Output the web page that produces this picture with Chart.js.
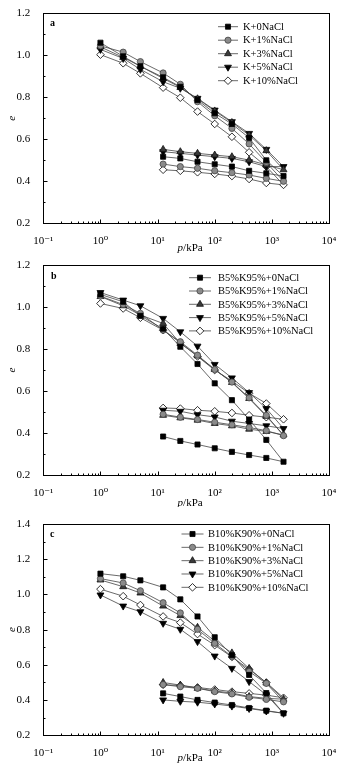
<!DOCTYPE html>
<html><head><meta charset="utf-8">
<script src="https://cdn.jsdelivr.net/npm/chart.js@4.4.0/dist/chart.umd.min.js"></script>
<style>
html,body{margin:0;padding:0;background:#fff;width:349px;height:772px;overflow:hidden}
canvas{position:absolute;left:0}
</style></head><body>
<canvas id="ca" style="top:0px" width="349" height="255"></canvas>
<canvas id="cb" style="top:252px" width="349" height="255"></canvas>
<canvas id="cc" style="top:510px" width="349" height="262"></canvas>
<script>
// ---- data ----
// pressure path: loading 1 -> 1600 kPa, then unloading 800 -> 12.5 kPa
const pressure = [1, 2.5, 5, 12.5, 25, 50, 100, 200, 400, 800, 1600, 800, 400, 200, 100, 50, 25, 12.5];
const xTickValues = [0.1, 1, 10, 100, 1000, 10000];
const xTickLabels = ['10\u207B\u00B9', '10\u2070', '10\u00B9', '10\u00B2', '10\u00B3', '10\u2074'];

const namesA = ['K+0NaCl', 'K+1%NaCl', 'K+3%NaCl', 'K+5%NaCl', 'K+10%NaCl'];
const a0  = [1.06, 0.995, 0.948, 0.895, 0.850, 0.787, 0.724, 0.673, 0.607, 0.500, 0.425, 0.438, 0.450, 0.470, 0.481, 0.493, 0.509, 0.517];
const a1  = [1.045, 1.015, 0.970, 0.916, 0.862, 0.779, 0.712, 0.652, 0.578, 0.490, 0.400, 0.414, 0.430, 0.441, 0.450, 0.462, 0.470, 0.482];
const a3  = [1.040, 0.990, 0.948, 0.890, 0.847, 0.793, 0.735, 0.680, 0.620, 0.546, 0.455, 0.478, 0.501, 0.517, 0.525, 0.533, 0.541, 0.552];
const a5  = [1.028, 0.985, 0.933, 0.874, 0.843, 0.795, 0.739, 0.684, 0.628, 0.552, 0.470, 0.470, 0.493, 0.509, 0.517, 0.525, 0.533, 0.541];
const a10 = [1.003, 0.962, 0.914, 0.846, 0.798, 0.732, 0.673, 0.612, 0.538, 0.470, 0.383, 0.392, 0.411, 0.425, 0.435, 0.443, 0.450, 0.455];

const namesB = ['B5%K95%+0NaCl', 'B5%K95%+1%NaCl', 'B5%K95%+3%NaCl', 'B5%K95%+5%NaCl', 'B5%K95%+10%NaCl'];
const b0  = [1.060, 1.025, 0.958, 0.897, 0.811, 0.729, 0.637, 0.557, 0.465, 0.368, 0.264, 0.282, 0.296, 0.311, 0.328, 0.346, 0.363, 0.384];
const b1  = [1.052, 1.012, 0.970, 0.890, 0.835, 0.771, 0.703, 0.643, 0.568, 0.485, 0.388, 0.412, 0.427, 0.440, 0.452, 0.465, 0.476, 0.490];
const b3  = [1.050, 1.006, 0.962, 0.922, 0.827, 0.768, 0.703, 0.641, 0.565, 0.480, 0.392, 0.408, 0.419, 0.435, 0.446, 0.462, 0.473, 0.485];
const b5  = [1.069, 1.033, 1.006, 0.946, 0.882, 0.814, 0.727, 0.663, 0.593, 0.517, 0.422, 0.435, 0.446, 0.457, 0.477, 0.488, 0.504, 0.509];
const b10 = [1.017, 0.993, 0.949, 0.890, 0.830, 0.765, 0.700, 0.648, 0.590, 0.541, 0.466, 0.476, 0.485, 0.496, 0.504, 0.509, 0.517, 0.520];

const namesC = ['B10%K90%+0NaCl', 'B10%K90%+1%NaCl', 'B10%K90%+3%NaCl', 'B10%K90%+5%NaCl', 'B10%K90%+10%NaCl'];
const c0  = [1.118, 1.103, 1.080, 1.040, 0.972, 0.875, 0.757, 0.655, 0.543, 0.440, 0.325, 0.340, 0.355, 0.372, 0.386, 0.401, 0.420, 0.438];
const c1  = [1.090, 1.065, 1.021, 0.953, 0.895, 0.802, 0.722, 0.648, 0.562, 0.495, 0.390, 0.404, 0.416, 0.435, 0.448, 0.467, 0.476, 0.488];
const c3  = [1.082, 1.044, 1.008, 0.934, 0.880, 0.813, 0.735, 0.668, 0.580, 0.497, 0.405, 0.410, 0.420, 0.440, 0.452, 0.467, 0.485, 0.500];
const c5  = [0.997, 0.934, 0.902, 0.836, 0.802, 0.732, 0.650, 0.580, 0.505, 0.430, 0.325, 0.338, 0.352, 0.366, 0.378, 0.388, 0.393, 0.401];
const c10 = [1.030, 0.990, 0.940, 0.875, 0.840, 0.775, 0.712, 0.645, 0.575, 0.500, 0.413, 0.428, 0.438, 0.448, 0.460, 0.472, 0.483, 0.487];

// ---- styles ----
const SERIF = '"Liberation Serif", "DejaVu Serif", serif';
const markerStyles = [
  {pointStyle: 'rect',     rotation: 0,   bg: '#000', border: '#000', radius: 3.6},
  {pointStyle: 'circle',   rotation: 0,   bg: '#8a8a8a', border: '#444', radius: 3.1},
  {pointStyle: 'triangle', rotation: 0,   bg: '#3a3a3a', border: '#111', radius: 4.0},
  {pointStyle: 'triangle', rotation: 180, bg: '#000', border: '#000', radius: 4.0},
  {pointStyle: 'rectRot',  rotation: 0,   bg: '#fff', border: '#000', radius: 3.8}
];
const lineColor = '#444';

function drawMarker(ctx, st, x, y) {
  const H = Chart.helpers;
  ctx.fillStyle = st.bg; ctx.strokeStyle = st.border; ctx.lineWidth = 0.8;
  if (H && H.drawPoint) {
    H.drawPoint(ctx, {pointStyle: st.pointStyle, rotation: st.rotation, radius: st.radius, borderWidth: 0.8}, x, y);
    return;
  }
  ctx.beginPath(); ctx.arc(x, y, st.radius, 0, Math.PI * 2); ctx.fill(); ctx.stroke();
}

const decor = {
  id: 'decor',
  afterDraw(chart) {
    const o = chart.options.plugins.decor;
    const {ctx, chartArea: a} = chart;
    const xs = chart.scales.x, ys = chart.scales.y;
    ctx.save();
    ctx.strokeStyle = '#000'; ctx.lineWidth = 1;
    const L = Math.round(a.left) + 0.5, T = Math.round(a.top) + 0.5, R = Math.round(a.right) + 0.5, B = Math.round(a.bottom) + 0.5;
    ctx.strokeRect(L, T, R - L, B - T);
    ctx.beginPath();
    for (let e = -1; e <= 3; e++) {
      for (let m = 1; m <= 9; m++) {
        const px = Math.round(xs.getPixelForValue(m * Math.pow(10, e))) + 0.5;
        const len = m === 1 ? 4 : 2;
        ctx.moveTo(px, B); ctx.lineTo(px, B - len);
      }
    }
    const y0 = ys.min, y1 = ys.max;
    for (let k = 0; k <= Math.round((y1 - y0) / 0.1); k++) {
      const v = y0 + k * 0.1;
      const py = Math.round(ys.getPixelForValue(v)) + 0.5;
      const len = (k % 2 === 0) ? 4 : 2;
      ctx.moveTo(L, py); ctx.lineTo(L + len, py);
    }
    ctx.stroke();
    // panel letter
    ctx.fillStyle = '#000';
    ctx.font = 'bold 10px ' + SERIF;
    ctx.textBaseline = 'middle'; ctx.textAlign = 'left';
    ctx.fillText(o.letter, o.letterX, o.letterY);
    // legend
    chart.data.datasets.forEach((ds, i) => {
      const yy = o.legY + i * o.legStep;
      ctx.strokeStyle = lineColor; ctx.lineWidth = 0.8;
      ctx.beginPath(); ctx.moveTo(o.legX0, yy); ctx.lineTo(o.legX1, yy); ctx.stroke();
      drawMarker(ctx, markerStyles[i], (o.legX0 + o.legX1) / 2, yy);
      ctx.fillStyle = '#000';
      ctx.font = '10.5px ' + SERIF;
      ctx.textBaseline = 'middle'; ctx.textAlign = 'left';
      ctx.fillText(ds.label, o.legText, yy + 0.5);
    });
    // x title: italic p + /kPa
    ctx.fillStyle = '#000';
    ctx.textBaseline = 'middle'; ctx.textAlign = 'left';
    const f1 = 'italic 11px ' + SERIF, f2 = '11px ' + SERIF;
    ctx.font = f1; const w1 = ctx.measureText('p').width;
    ctx.font = f2; const w2 = ctx.measureText('/kPa').width;
    const cx = (a.left + a.right) / 2 + 4;
    let sx = cx - (w1 + w2) / 2;
    ctx.font = f1; ctx.fillText('p', sx, o.xTitleY);
    ctx.font = f2; ctx.fillText('/kPa', sx + w1, o.xTitleY);
    // y title
    ctx.translate(12, (a.top + a.bottom) / 2);
    ctx.rotate(-Math.PI / 2);
    ctx.font = 'italic 11px ' + SERIF; ctx.textAlign = 'center';
    ctx.fillText('e', 0, 0);
    ctx.restore();
  }
};

function makePanel(id, H, areaTop, areaBottom, yMin, yMax, names, series, deco) {
  const datasets = series.map((vals, i) => ({
    label: names[i],
    data: vals.map((v, j) => ({x: pressure[j], y: v})),
    showLine: true,
    borderColor: lineColor,
    borderWidth: 0.8,
    pointStyle: markerStyles[i].pointStyle,
    pointRotation: markerStyles[i].rotation,
    pointRadius: markerStyles[i].radius,
    pointBackgroundColor: markerStyles[i].bg,
    pointBorderColor: markerStyles[i].border,
    pointBorderWidth: 0.8,
    tension: 0
  }));
  return new Chart(document.getElementById(id), {
    type: 'scatter',
    data: {datasets},
    options: {
      responsive: false, animation: false, devicePixelRatio: 1,
      layout: {padding: {left: 0, right: 20, top: areaTop, bottom: 0}},
      plugins: {legend: {display: false}, tooltip: {enabled: false}, decor: deco},
      scales: {
        x: {
          type: 'logarithmic', min: 0.1, max: 10000,
          afterBuildTicks(s) { s.ticks = xTickValues.map(v => ({value: v, major: true})); },
          afterFit(s) { s.height = H - areaBottom; },
          grid: {display: false}, border: {display: false},
          ticks: {
            autoSkip: false, maxRotation: 0, padding: 3, color: '#000',
            font: {family: SERIF, size: 11},
            callback(v) { const k = xTickValues.indexOf(v); return k >= 0 ? xTickLabels[k] : ''; }
          }
        },
        y: {
          min: yMin, max: yMax,
          afterFit(s) { s.width = 43.3; },
          grid: {display: false}, border: {display: false},
          ticks: {
            stepSize: 0.2, padding: 5, color: '#000',
            font: {family: SERIF, size: 11},
            callback(v) { return Number(v).toFixed(1); }
          }
        }
      }
    },
    plugins: [decor]
  });
}

makePanel('ca', 255, 13.3, 223.3, 0.2, 1.2, namesA, [a0, a1, a3, a5, a10],
  {letter: 'a', letterX: 50, letterY: 23, legX0: 218, legX1: 238, legText: 243, legY: 26.7, legStep: 13.5, xTitleY: 248});
makePanel('cb', 255, 13, 223.2, 0.2, 1.2, namesB, [b0, b1, b3, b5, b10],
  {letter: 'b', letterX: 51, letterY: 24.5, legX0: 189, legX1: 211, legText: 218, legY: 25.7, legStep: 13.3, xTitleY: 251});
makePanel('cc', 262, 14, 225.3, 0.2, 1.4, namesC, [c0, c1, c3, c5, c10],
  {letter: 'c', letterX: 50, letterY: 24, legX0: 181.5, legX1: 203.5, legText: 208, legY: 24, legStep: 13.33, xTitleY: 248});
</script>
</body></html>
